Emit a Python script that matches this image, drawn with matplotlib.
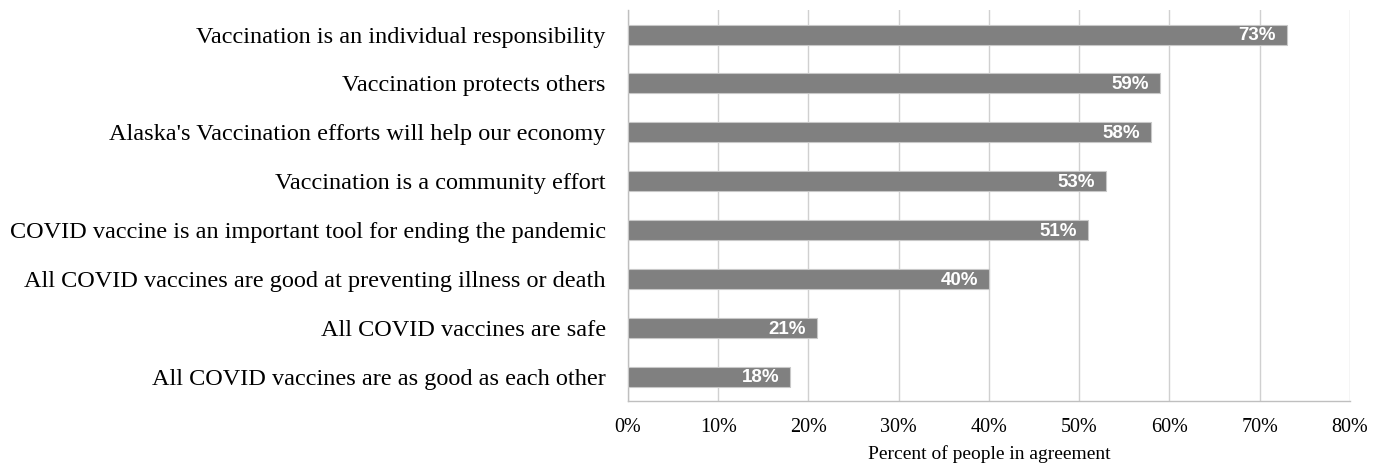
import numpy as np
import matplotlib
matplotlib.use("Agg")
from matplotlib import pyplot as plt
from matplotlib.ticker import PercentFormatter

statements = [
    "Vaccination is an individual responsibility",
    "Vaccination protects others",
    "Alaska's Vaccination efforts will help our economy",
    "Vaccination is a community effort",
    "COVID vaccine is an important tool for ending the pandemic",
    "All COVID vaccines are good at preventing illness or death",
    "All COVID vaccines are safe",
    "All COVID vaccines are as good as each other",
]
agree_pct = [73, 59, 58, 53, 51, 40, 21, 18]
xticks = np.arange(0, 81, 10)

serif = ["Liberation Serif", "DejaVu Serif"]
sans = ["Liberation Sans", "DejaVu Sans"]

fig = plt.figure(figsize=(13.85, 4.63), dpi=100)
ax = fig.add_axes([0.4534, 0.134, 0.5213, 0.844])

y = np.arange(len(statements))
ax.barh(y, agree_pct, height=0.41, color="#808080", edgecolor="#c8c8c8",
        linewidth=0.8, zorder=3)
for yi, v in zip(y, agree_pct):
    ax.annotate("{:d}%".format(v), xy=(v, yi), xytext=(-8, -1),
                textcoords="offset points", ha="right", va="center",
                color="white", fontweight="bold", fontsize=13.5, family=sans,
                zorder=4)

ax.set_ylim(len(statements) - 0.5, -0.5)
ax.set_xlim(0, 80)
ax.set_xticks(xticks)
ax.xaxis.set_major_formatter(PercentFormatter(decimals=0))
ax.set_yticks(y)
ax.set_yticklabels(statements, family=serif, fontsize=17.5)
for lbl in ax.get_xticklabels():
    lbl.set_family(serif)
    lbl.set_fontsize(14.5)
ax.tick_params(axis="both", length=0)
ax.tick_params(axis="x", pad=12)
ax.tick_params(axis="y", pad=16)
ax.set_xlabel("Percent of people in agreement", family=serif, fontsize=14,
              labelpad=6)

ax.grid(axis="x", color="#d0d0d0", linewidth=1, zorder=0)
for side in ["top", "right"]:
    ax.spines[side].set_visible(False)
for side in ["left", "bottom"]:
    ax.spines[side].set_color("#bfbfbf")
    ax.spines[side].set_linewidth(1)

plt.savefig("out.png", dpi=100)
plt.close()
